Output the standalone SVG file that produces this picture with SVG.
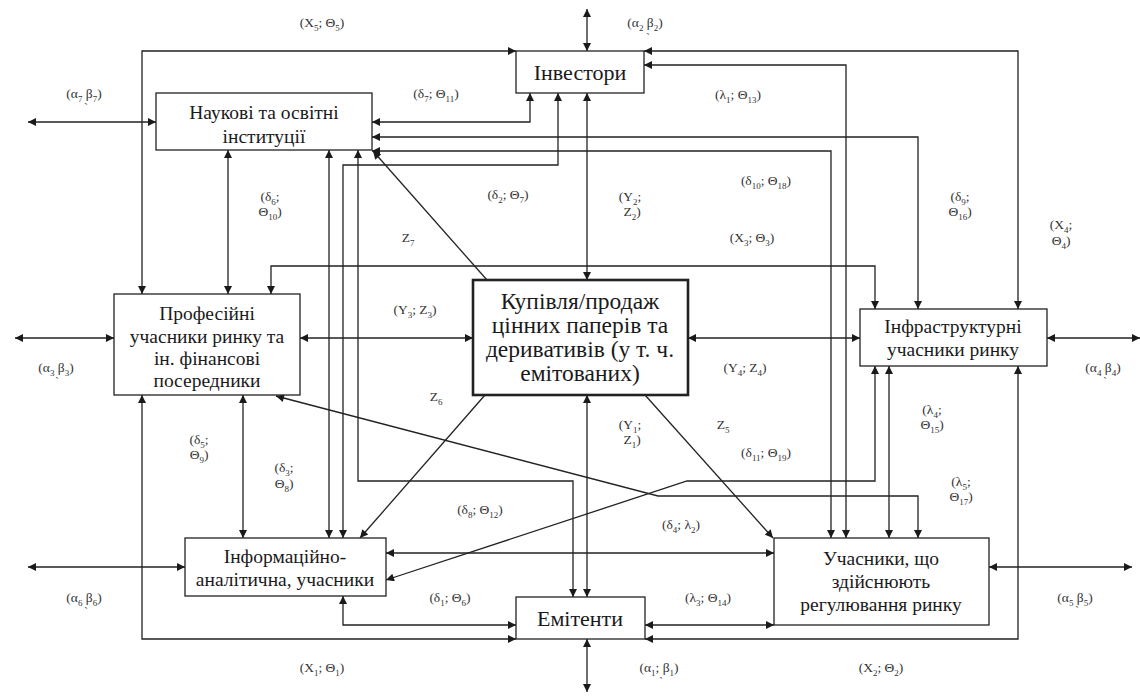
<svg xmlns="http://www.w3.org/2000/svg" width="1140" height="698" viewBox="0 0 1140 698">
<style>
.n{font-family:"Liberation Serif","Times New Roman",serif;font-size:19.5px;fill:#1a1a1a;text-anchor:middle}
.b{font-size:22px}
.k{font-family:"Liberation Serif","Times New Roman",serif;font-size:23.5px;fill:#1a1a1a;text-anchor:middle}
.l{font-family:"Liberation Serif","Times New Roman",serif;font-size:13.5px;fill:#333;text-anchor:middle}
.s{font-size:9px}
.t{font-family:"Liberation Serif",serif;font-size:12px;fill:#555;text-anchor:middle}
rect{fill:#fff;stroke:#222;stroke-width:1.3}
#c path{fill:none;stroke:#222;stroke-width:1.3}
</style>
<defs>
<marker id="a" viewBox="0 0 10 10" refX="10" refY="5" markerWidth="10" markerHeight="8" markerUnits="userSpaceOnUse" orient="auto-start-reverse"><path d="M0,0 L10,5 L0,10 z" fill="#1a1a1a"/></marker>
</defs>
<rect x="0" y="0" width="1140" height="698" style="stroke:none;fill:#fff"/>
<g id="c">
<path d="M142,294 V51 H516" marker-start="url(#a)" marker-end="url(#a)"/>
<path d="M28,122 H156" marker-start="url(#a)" marker-end="url(#a)"/>
<path d="M372,122 H530 V93" marker-start="url(#a)" marker-end="url(#a)"/>
<path d="M587,9 V51" marker-start="url(#a)" marker-end="url(#a)"/>
<path d="M644,51 H1018 V309" marker-start="url(#a)" marker-end="url(#a)"/>
<path d="M644,65 H846 V538" marker-start="url(#a)" marker-end="url(#a)"/>
<path d="M372,137 H918 V309" marker-start="url(#a)" marker-end="url(#a)"/>
<path d="M372,151 H831 V538" marker-start="url(#a)" marker-end="url(#a)"/>
<path d="M587,93 V280" marker-start="url(#a)" marker-end="url(#a)"/>
<path d="M558,93 V165 H343 V538" marker-start="url(#a)" marker-end="url(#a)"/>
<path d="M228,150 V294" marker-start="url(#a)" marker-end="url(#a)"/>
<path d="M329,150 V538" marker-start="url(#a)" marker-end="url(#a)"/>
<path d="M358,150 V481 H573 V597" marker-start="url(#a)" marker-end="url(#a)"/>
<path d="M487,280 L373,151" marker-end="url(#a)"/>
<path d="M271,294 V266 H875 V309" marker-start="url(#a)" marker-end="url(#a)"/>
<path d="M15,338 H114" marker-start="url(#a)" marker-end="url(#a)"/>
<path d="M300,338 H473" marker-start="url(#a)" marker-end="url(#a)"/>
<path d="M688,338 H860" marker-start="url(#a)" marker-end="url(#a)"/>
<path d="M1047,338 H1140" marker-start="url(#a)" marker-end="url(#a)"/>
<path d="M142,395 V639 H516" marker-start="url(#a)" marker-end="url(#a)"/>
<path d="M243,395 V538" marker-start="url(#a)" marker-end="url(#a)"/>
<path d="M276,396 L658,496 H918 V538" marker-start="url(#a)" marker-end="url(#a)"/>
<path d="M485,395 L360,538" marker-end="url(#a)"/>
<path d="M587,395 V597" marker-start="url(#a)" marker-end="url(#a)"/>
<path d="M645,395 L773,538" marker-end="url(#a)"/>
<path d="M875,366 V481 H687 L386,580" marker-start="url(#a)" marker-end="url(#a)"/>
<path d="M889,366 V538" marker-start="url(#a)" marker-end="url(#a)"/>
<path d="M1018,366 V639 H645" marker-start="url(#a)" marker-end="url(#a)"/>
<path d="M989,567 H1132" marker-start="url(#a)" marker-end="url(#a)"/>
<path d="M386,553 H774" marker-start="url(#a)" marker-end="url(#a)"/>
<path d="M28,567 H185" marker-start="url(#a)" marker-end="url(#a)"/>
<path d="M343,596 V625 H516" marker-start="url(#a)" marker-end="url(#a)"/>
<path d="M645,625 H774" marker-start="url(#a)" marker-end="url(#a)"/>
<path d="M587,639 V692" marker-start="url(#a)" marker-end="url(#a)"/>
</g>
<g id="inv"><rect x="516" y="51" width="128" height="42"/><text class="n b" x="580" y="79.5">Інвестори</text></g>
<g id="nauk"><rect x="156" y="93" width="216" height="57"/><text class="n" x="264" y="119">Наукові та освітні</text><text class="n" x="264" y="143">інституції</text></g>
<g id="prof"><rect x="114" y="294" width="186" height="101"/><text class="n" x="207" y="319.5">Професійні</text><text class="n" x="207" y="342.5">учасники ринку та</text><text class="n" x="207" y="364.5">ін. фінансові</text><text class="n" x="207" y="387">посередники</text></g>
<g id="kup"><rect x="473" y="280" width="215" height="115" style="stroke-width:2.6"/><text class="k" x="580" y="309">Купівля/продаж</text><text class="k" x="580" y="333">цінних паперів та</text><text class="k" x="580" y="357">деривативів (у т. ч.</text><text class="k" x="580" y="381">емітованих)</text></g>
<g id="infra"><rect x="860" y="309" width="187" height="57"/><text class="n" x="953" y="333">Інфраструктурні</text><text class="n" x="953" y="356">учасники ринку</text></g>
<g id="inform"><rect x="185" y="538" width="201" height="58"/><text class="n" x="285" y="563">Інформаційно-</text><text class="n" x="285" y="586">аналітична, учасники</text></g>
<g id="emit"><rect x="516" y="597" width="129" height="42"/><text class="n b" x="580" y="625.5">Емітенти</text></g>
<g id="uch"><rect x="774" y="538" width="215" height="87"/><text class="n" x="881" y="565">Учасники, що</text><text class="n" x="881" y="588">здійснюють</text><text class="n" x="881" y="611">регулювання ринку</text></g>
<g id="labels">
<text class="l" x="322" y="27">(X<tspan class="s" dy="3.5">5</tspan><tspan dy="-3.5">; Θ</tspan><tspan class="s" dy="3.5">5</tspan><tspan dy="-3.5">)</tspan></text>
<text class="l" x="645" y="27">(α<tspan class="s" dy="3.5">2</tspan><tspan dy="-3.5"> β</tspan><tspan class="s" dy="3.5">2</tspan><tspan dy="-3.5">)</tspan></text>
<text class="t" x="648" y="42">`</text>
<text class="l" x="84" y="98">(α<tspan class="s" dy="3.5">7</tspan><tspan dy="-3.5"> β</tspan><tspan class="s" dy="3.5">7</tspan><tspan dy="-3.5">)</tspan></text>
<text class="t" x="86" y="112">`</text>
<text class="l" x="436" y="98">(δ<tspan class="s" dy="3.5">7</tspan><tspan dy="-3.5">; Θ</tspan><tspan class="s" dy="3.5">11</tspan><tspan dy="-3.5">)</tspan></text>
<text class="l" x="738" y="99">(λ<tspan class="s" dy="3.5">1</tspan><tspan dy="-3.5">; Θ</tspan><tspan class="s" dy="3.5">13</tspan><tspan dy="-3.5">)</tspan></text>
<text class="l" x="766" y="185">(δ<tspan class="s" dy="3.5">10</tspan><tspan dy="-3.5">; Θ</tspan><tspan class="s" dy="3.5">18</tspan><tspan dy="-3.5">)</tspan></text>
<text class="l" x="508" y="199">(δ<tspan class="s" dy="3.5">2</tspan><tspan dy="-3.5">; Θ</tspan><tspan class="s" dy="3.5">7</tspan><tspan dy="-3.5">)</tspan></text>
<text class="l" x="270" y="201">(δ<tspan class="s" dy="3.5">6</tspan><tspan dy="-3.5">;</tspan></text>
<text class="l" x="270" y="216">Θ<tspan class="s" dy="3.5">10</tspan><tspan dy="-3.5">)</tspan></text>
<text class="l" x="630" y="201">(Y<tspan class="s" dy="3.5">2</tspan><tspan dy="-3.5">;</tspan></text>
<text class="l" x="632" y="216">Z<tspan class="s" dy="3.5">2</tspan><tspan dy="-3.5">)</tspan></text>
<text class="l" x="960" y="201">(δ<tspan class="s" dy="3.5">9</tspan><tspan dy="-3.5">;</tspan></text>
<text class="l" x="960" y="216">Θ<tspan class="s" dy="3.5">16</tspan><tspan dy="-3.5">)</tspan></text>
<text class="l" x="1061" y="229">(X<tspan class="s" dy="3.5">4</tspan><tspan dy="-3.5">;</tspan></text>
<text class="l" x="1061" y="245">Θ<tspan class="s" dy="3.5">4</tspan><tspan dy="-3.5">)</tspan></text>
<text class="l" x="408" y="242">Z<tspan class="s" dy="3.5">7</tspan></text>
<text class="l" x="752" y="242">(X<tspan class="s" dy="3.5">3</tspan><tspan dy="-3.5">; Θ</tspan><tspan class="s" dy="3.5">3</tspan><tspan dy="-3.5">)</tspan></text>
<text class="l" x="415" y="314">(Y<tspan class="s" dy="3.5">3</tspan><tspan dy="-3.5">; Z</tspan><tspan class="s" dy="3.5">3</tspan><tspan dy="-3.5">)</tspan></text>
<text class="l" x="745" y="372">(Y<tspan class="s" dy="3.5">4</tspan><tspan dy="-3.5">; Z</tspan><tspan class="s" dy="3.5">4</tspan><tspan dy="-3.5">)</tspan></text>
<text class="l" x="56" y="372">(α<tspan class="s" dy="3.5">3</tspan><tspan dy="-3.5"> β</tspan><tspan class="s" dy="3.5">3</tspan><tspan dy="-3.5">)</tspan></text>
<text class="t" x="57" y="386">`</text>
<text class="l" x="1103" y="372">(α<tspan class="s" dy="3.5">4</tspan><tspan dy="-3.5"> β</tspan><tspan class="s" dy="3.5">4</tspan><tspan dy="-3.5">)</tspan></text>
<text class="t" x="1105" y="386">`</text>
<text class="l" x="436" y="401">Z<tspan class="s" dy="3.5">6</tspan></text>
<text class="l" x="630" y="429">(Y<tspan class="s" dy="3.5">1</tspan><tspan dy="-3.5">;</tspan></text>
<text class="l" x="632" y="444">Z<tspan class="s" dy="3.5">1</tspan><tspan dy="-3.5">)</tspan></text>
<text class="l" x="723" y="429">Z<tspan class="s" dy="3.5">5</tspan></text>
<text class="l" x="932" y="414">(λ<tspan class="s" dy="3.5">4</tspan><tspan dy="-3.5">;</tspan></text>
<text class="l" x="932" y="429">Θ<tspan class="s" dy="3.5">15</tspan><tspan dy="-3.5">)</tspan></text>
<text class="l" x="199" y="444">(δ<tspan class="s" dy="3.5">5</tspan><tspan dy="-3.5">;</tspan></text>
<text class="l" x="199" y="459">Θ<tspan class="s" dy="3.5">9</tspan><tspan dy="-3.5">)</tspan></text>
<text class="l" x="766" y="457">(δ<tspan class="s" dy="3.5">11</tspan><tspan dy="-3.5">; Θ</tspan><tspan class="s" dy="3.5">19</tspan><tspan dy="-3.5">)</tspan></text>
<text class="l" x="284" y="472">(δ<tspan class="s" dy="3.5">3</tspan><tspan dy="-3.5">;</tspan></text>
<text class="l" x="284" y="488">Θ<tspan class="s" dy="3.5">8</tspan><tspan dy="-3.5">)</tspan></text>
<text class="l" x="961" y="486">(λ<tspan class="s" dy="3.5">5</tspan><tspan dy="-3.5">;</tspan></text>
<text class="l" x="961" y="501">Θ<tspan class="s" dy="3.5">17</tspan><tspan dy="-3.5">)</tspan></text>
<text class="l" x="480" y="514">(δ<tspan class="s" dy="3.5">8</tspan><tspan dy="-3.5">; Θ</tspan><tspan class="s" dy="3.5">12</tspan><tspan dy="-3.5">)</tspan></text>
<text class="l" x="681" y="529">(δ<tspan class="s" dy="3.5">4</tspan><tspan dy="-3.5">; λ</tspan><tspan class="s" dy="3.5">2</tspan><tspan dy="-3.5">)</tspan></text>
<text class="l" x="450" y="602">(δ<tspan class="s" dy="3.5">1</tspan><tspan dy="-3.5">; Θ</tspan><tspan class="s" dy="3.5">6</tspan><tspan dy="-3.5">)</tspan></text>
<text class="l" x="708" y="602">(λ<tspan class="s" dy="3.5">3</tspan><tspan dy="-3.5">; Θ</tspan><tspan class="s" dy="3.5">14</tspan><tspan dy="-3.5">)</tspan></text>
<text class="l" x="84" y="602">(α<tspan class="s" dy="3.5">6</tspan><tspan dy="-3.5"> β</tspan><tspan class="s" dy="3.5">6</tspan><tspan dy="-3.5">)</tspan></text>
<text class="t" x="86" y="616">`</text>
<text class="l" x="1075" y="602">(α<tspan class="s" dy="3.5">5</tspan><tspan dy="-3.5"> β</tspan><tspan class="s" dy="3.5">5</tspan><tspan dy="-3.5">)</tspan></text>
<text class="t" x="1077" y="615">`</text>
<text class="l" x="322" y="672">(X<tspan class="s" dy="3.5">1</tspan><tspan dy="-3.5">; Θ</tspan><tspan class="s" dy="3.5">1</tspan><tspan dy="-3.5">)</tspan></text>
<text class="l" x="659" y="672">(α<tspan class="s" dy="3.5">1</tspan><tspan dy="-3.5">; β</tspan><tspan class="s" dy="3.5">1</tspan><tspan dy="-3.5">)</tspan></text>
<text class="t" x="661" y="686">`</text>
<text class="l" x="881" y="672">(X<tspan class="s" dy="3.5">2</tspan><tspan dy="-3.5">; Θ</tspan><tspan class="s" dy="3.5">2</tspan><tspan dy="-3.5">)</tspan></text>
</g>
</svg>
